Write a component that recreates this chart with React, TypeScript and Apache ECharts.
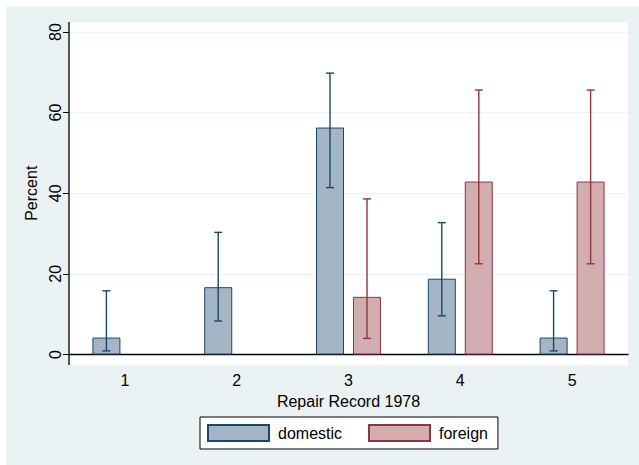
import React, { useEffect, useRef } from "react";
import * as echarts from "echarts";

const categories = ["1", "2", "3", "4", "5"];
const domesticPct = [4.2, 16.7, 56.3, 18.8, 4.2];
const foreignPct: (number | null)[] = [null, null, 14.3, 42.9, 42.9];
// [category index, lower CI, upper CI]
const domesticCI = [
  [0, 0.9, 15.8],
  [1, 8.3, 30.3],
  [2, 41.4, 69.8],
  [3, 9.6, 32.7],
  [4, 0.9, 15.8],
];
const foreignCI = [
  [2, 4.0, 38.6],
  [3, 22.5, 65.6],
  [4, 22.5, 65.6],
];
const yTicks = { min: 0, max: 80, interval: 20 };

const NAVY = "#1a476f";
const MAROON = "#90353b";
const NAVY_FILL = "#a4b5c5";
const MAROON_FILL = "#d3aeb1";
const BG = "#eaf2f3";
const FONT = "Liberation Sans, Arial, Helvetica, sans-serif";

function errorRenderer(sign: number, color: string) {
  return (params: any, api: any) => {
    const idx = api.value(0);
    const lo = api.value(1);
    const hi = api.value(2);
    const pLo = api.coord([idx, lo]);
    const pHi = api.coord([idx, hi]);
    const bw = api.size([1, 0])[0];
    const x = pLo[0] + sign * bw * 0.1655;
    const cap = 4;
    const style = { stroke: color, lineWidth: 1.4 };
    return {
      type: "group",
      children: [
        { type: "line", shape: { x1: x, y1: pLo[1], x2: x, y2: pHi[1] }, style },
        { type: "line", shape: { x1: x - cap, y1: pHi[1], x2: x + cap, y2: pHi[1] }, style },
        { type: "line", shape: { x1: x - cap, y1: pLo[1], x2: x + cap, y2: pLo[1] }, style },
      ],
    };
  };
}

export default function App() {
  const ref = useRef<HTMLDivElement>(null);
  useEffect(() => {
    if (!ref.current) return;
    const chart = echarts.init(ref.current, undefined, { renderer: "svg" });
    const plotL = 63, plotT = 16, plotR = 622, plotB = 359;
    chart.setOption({
      animation: false,
      backgroundColor: BG,
      textStyle: { fontFamily: FONT },
      graphic: [
        {
          type: "rect",
          z: -10,
          silent: true,
          shape: { x: plotL, y: plotT, width: plotR - plotL, height: plotB - plotT },
          style: { fill: "#ffffff" },
        },
        {
          type: "line",
          z: 10,
          silent: true,
          shape: { x1: plotL, y1: plotT, x2: plotL, y2: plotB },
          style: { stroke: "#000000", lineWidth: 1.3 },
        },
      ],
      grid: { left: 63, top: 26, right: 11, bottom: 110.5, containLabel: false },
      legend: {
        left: 194,
        top: 411,
        orient: "horizontal",
        backgroundColor: "#ffffff",
        borderColor: "#000000",
        borderWidth: 1,
        borderRadius: 0,
        padding: [7, 10, 7, 7],
        itemWidth: 61,
        itemHeight: 16,
        itemGap: 26,
        icon: "rect",
        textStyle: { fontSize: 16, color: "#000", fontFamily: FONT, padding: [0, 0, 0, 4], lineHeight: 16 },
        data: ["domestic", "foreign"],
      },
      xAxis: {
        type: "category",
        data: categories,
        offset: 10,
        axisLine: { lineStyle: { color: "#000", width: 1.3 } },
        axisTick: { alignWithLabel: true, length: 6, lineStyle: { color: "#000" } },
        axisLabel: { fontSize: 16, color: "#000", margin: 8, fontFamily: FONT },
        splitLine: { show: false },
        name: "Repair Record 1978",
        nameLocation: "middle",
        nameGap: 28,
        nameTextStyle: { fontSize: 16, color: "#000", fontFamily: FONT },
      },
      yAxis: {
        type: "value",
        min: yTicks.min,
        max: yTicks.max,
        interval: yTicks.interval,
        axisLine: { show: false },
        axisTick: { show: true, length: 6, lineStyle: { color: "#000" } },
        axisLabel: { fontSize: 16, color: "#000", rotate: 90, margin: 6, fontFamily: FONT },
        splitLine: { show: true, lineStyle: { color: BG, width: 1 } },
        name: "Percent",
        nameLocation: "middle",
        nameRotate: 90,
        nameGap: 22,
        nameTextStyle: { fontSize: 16, color: "#000", fontFamily: FONT },
      },
      series: [
        {
          name: "domestic",
          type: "bar",
          data: domesticPct,
          barWidth: 28,
          barGap: "32%",
          itemStyle: { color: NAVY_FILL, borderColor: NAVY, borderWidth: 1 },
          z: 2,
        },
        {
          name: "foreign",
          type: "bar",
          data: foreignPct,
          barWidth: 28,
          barGap: "32%",
          itemStyle: { color: MAROON_FILL, borderColor: MAROON, borderWidth: 1 },
          z: 2,
        },
        {
          name: "domesticCI",
          type: "custom",
          data: domesticCI,
          encode: { x: 0, y: [1, 2] },
          renderItem: errorRenderer(-1, NAVY),
          z: 3,
        },
        {
          name: "foreignCI",
          type: "custom",
          data: foreignCI,
          encode: { x: 0, y: [1, 2] },
          renderItem: errorRenderer(1, MAROON),
          z: 3,
        },
      ],
    });
    return () => chart.dispose();
  }, []);
  return (
    <div style={{ position: "fixed", left: 0, top: 0, width: 639, height: 465, background: "#ffffff" }}>
      <div ref={ref} style={{ position: "absolute", left: 6, top: 6, width: 633, height: 459 }} />
    </div>
  );
}
